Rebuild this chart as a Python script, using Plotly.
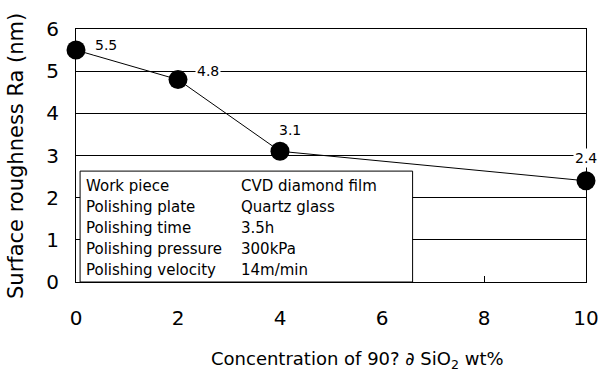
import plotly.graph_objects as go

# SiO2 concentration (wt%) vs. surface roughness Ra
concentration = [0, 2, 4, 10]
roughness = [5.5, 4.8, 3.1, 2.4]
value_labels = ["5.5", "4.8", "3.1", "2.4"]

x_ticks = [0, 2, 4, 6, 8, 10]
y_ticks = [0, 1, 2, 3, 4, 5, 6]

condition_names = ["Work piece", "Polishing plate", "Polishing time",
                   "Polishing pressure", "Polishing velocity"]
condition_values = ["CVD diamond film", "Quartz glass", "3.5h", "300kPa", "14m/min"]

x_title = "Concentration of 90? \u2202 SiO<sub>2</sub> wt%"
y_title = "Surface roughness Ra (nm)"

FONT = "DejaVu Sans"
L, R, T, B = 76, 16, 29, 95
PW, PH = 602 - L - R, 377 - T - B


def px(x):
    return (x - L) / PW


def py(y):
    return 1 - (y - T) / PH


fig = go.Figure()
fig.add_trace(go.Scatter(
    x=concentration, y=roughness, mode="lines+markers",
    line=dict(color="black", width=1),
    marker=dict(color="black", size=19),
    cliponaxis=False, showlegend=False,
))

# value labels next to each point (white background masks the grid)
label_offsets = [(30, -5), (30, -9), (10, -21), (0, -23)]
for x, y, t, (dx, dy) in zip(concentration, roughness, value_labels, label_offsets):
    fig.add_annotation(x=x, y=y, text=t, showarrow=False, xshift=dx, yshift=-dy,
                       bgcolor="white", font=dict(family=FONT, size=14, color="black"))

# polishing-condition table
fig.add_shape(type="rect", xref="x", yref="y", x0=0.08, x1=6.6, y0=0, y1=2.63,
              fillcolor="white", line=dict(color="black", width=1), layer="above")
row_y = [186, 207, 228, 249, 270]
for name, val, ry in zip(condition_names, condition_values, row_y):
    fig.add_annotation(xref="paper", yref="paper", x=px(84), y=py(ry), text=name,
                       showarrow=False, xanchor="left", yanchor="middle",
                       font=dict(family=FONT, size=15, color="black"))
    fig.add_annotation(xref="paper", yref="paper", x=px(239), y=py(ry), text=val,
                       showarrow=False, xanchor="left", yanchor="middle",
                       font=dict(family=FONT, size=15, color="black"))

# axis titles
fig.add_annotation(xref="paper", yref="paper", x=px(357), y=py(360), text=x_title,
                   showarrow=False, xanchor="center", yanchor="middle",
                   font=dict(family=FONT, size=18, color="black"))
fig.add_annotation(xref="paper", yref="paper", x=px(16), y=py(156), text=y_title,
                   showarrow=False, textangle=-90, xanchor="center", yanchor="middle",
                   font=dict(family=FONT, size=21, color="black"))

fig.update_layout(
    width=602, height=377,
    margin=dict(l=L, r=R, t=T, b=B, autoexpand=False),
    paper_bgcolor="white", plot_bgcolor="white",
    font=dict(family=FONT, color="black"),
    xaxis=dict(range=[0, 10], tickvals=x_ticks, ticks="inside", ticklen=6,
               tickcolor="black", showgrid=False, zeroline=False, automargin=False,
               showline=True, linecolor="black", linewidth=1, mirror=True,
               tickfont=dict(size=20), ticklabelstandoff=18),
    yaxis=dict(range=[0, 6], tickvals=y_ticks, showgrid=True, gridcolor="black",
               gridwidth=1, zeroline=False, showline=True, linecolor="black",
               linewidth=1, mirror=True, tickfont=dict(size=20), automargin=False,
               ticklabelstandoff=12),
)

fig.write_html("out.html")
